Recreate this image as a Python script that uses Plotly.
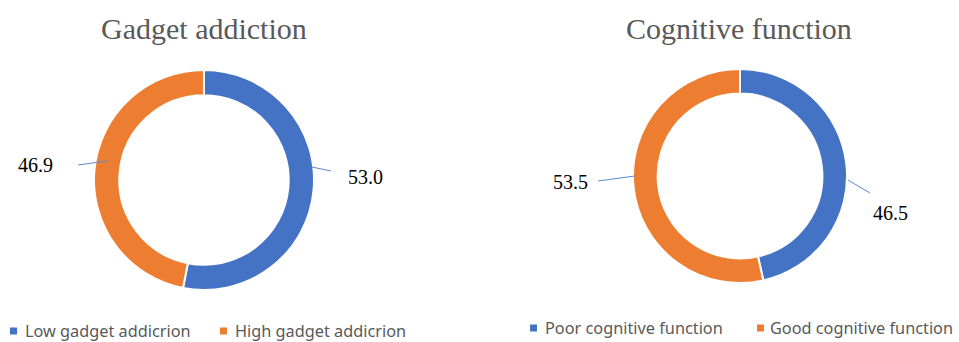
import plotly.graph_objects as go

W, H = 959, 342

# ---- data ----
left_title = "Gadget addiction"
left_labels = ["Low gadget addicrion", "High gadget addicrion"]
left_values = [53.0, 46.9]

right_title = "Cognitive function"
right_labels = ["Poor cognitive function", "Good cognitive function"]
right_values = [46.5, 53.5]

colors = ["#4472C4", "#ED7D31"]

# ---- layout helpers (pixel -> paper) ----
def px(x):
    return x / W

def py(y):
    return 1 - y / H

def domain(cx, cy, r):
    return dict(x=[px(cx - r), px(cx + r)], y=[py(cy + r), py(cy - r)])

fig = go.Figure()

pies = [
    (left_labels, left_values, (204, 180, 110)),
    (right_labels, right_values, (740, 176, 107)),
]
for labels, values, (cx, cy, r) in pies:
    fig.add_trace(go.Pie(
        labels=labels, values=values, hole=0.77, sort=False,
        direction="clockwise", rotation=0, textinfo="none",
        marker=dict(colors=colors, line=dict(color="white", width=2)),
        domain=domain(cx, cy, r), showlegend=False, hoverinfo="label+value",
    ))

annotations = []
shapes = []

# titles
for text, x in [(left_title, 204), (right_title, 739)]:
    annotations.append(dict(text=text, x=px(x), y=py(28), xref="paper", yref="paper",
                            showarrow=False, xanchor="center", yanchor="middle",
                            font=dict(family="Liberation Serif", size=30, color="#595959")))

# value labels with leader lines: (value, text pos, line start, line end)
value_labels = [
    (left_values[1], (35, 165), (78, 165), (107, 161)),
    (left_values[0], (365, 177), (312, 167), (331, 171)),
    (right_values[1], (570, 182), (598, 181), (635, 176)),
    (right_values[0], (890, 213), (848, 180), (870, 193)),
]
for v, (tx, ty), (x0, y0), (x1, y1) in value_labels:
    annotations.append(dict(text=f"{v:.1f}", x=px(tx), y=py(ty), xref="paper", yref="paper",
                            showarrow=False, xanchor="center", yanchor="middle",
                            font=dict(family="Liberation Serif", size=20, color="#000000")))
    shapes.append(dict(type="line", xref="paper", yref="paper",
                       x0=px(x0), y0=py(y0), x1=px(x1), y1=py(y1),
                       line=dict(color="#5B8BD0", width=1)))

# legends
legend_items = [
    (left_labels[0], colors[0], 10, 23, 331),
    (left_labels[1], colors[1], 220, 233, 331),
    (right_labels[0], colors[0], 530, 543, 328),
    (right_labels[1], colors[1], 757, 768, 328),
]
for text, col, mx, tx, y in legend_items:
    shapes.append(dict(type="rect", xref="paper", yref="paper",
                       x0=px(mx), x1=px(mx + 7), y0=py(y + 3.5), y1=py(y - 3.5),
                       fillcolor=col, line=dict(width=0)))
    annotations.append(dict(text=text, x=px(tx), y=py(y), xref="paper", yref="paper",
                            showarrow=False, xanchor="left", yanchor="middle",
                            font=dict(family="Noto Sans", size=16.3, color="#595959")))

fig.update_layout(
    width=W, height=H, margin=dict(l=0, r=0, t=0, b=0),
    paper_bgcolor="white", plot_bgcolor="white",
    annotations=annotations, shapes=shapes,
)

fig.write_html("out.html")
